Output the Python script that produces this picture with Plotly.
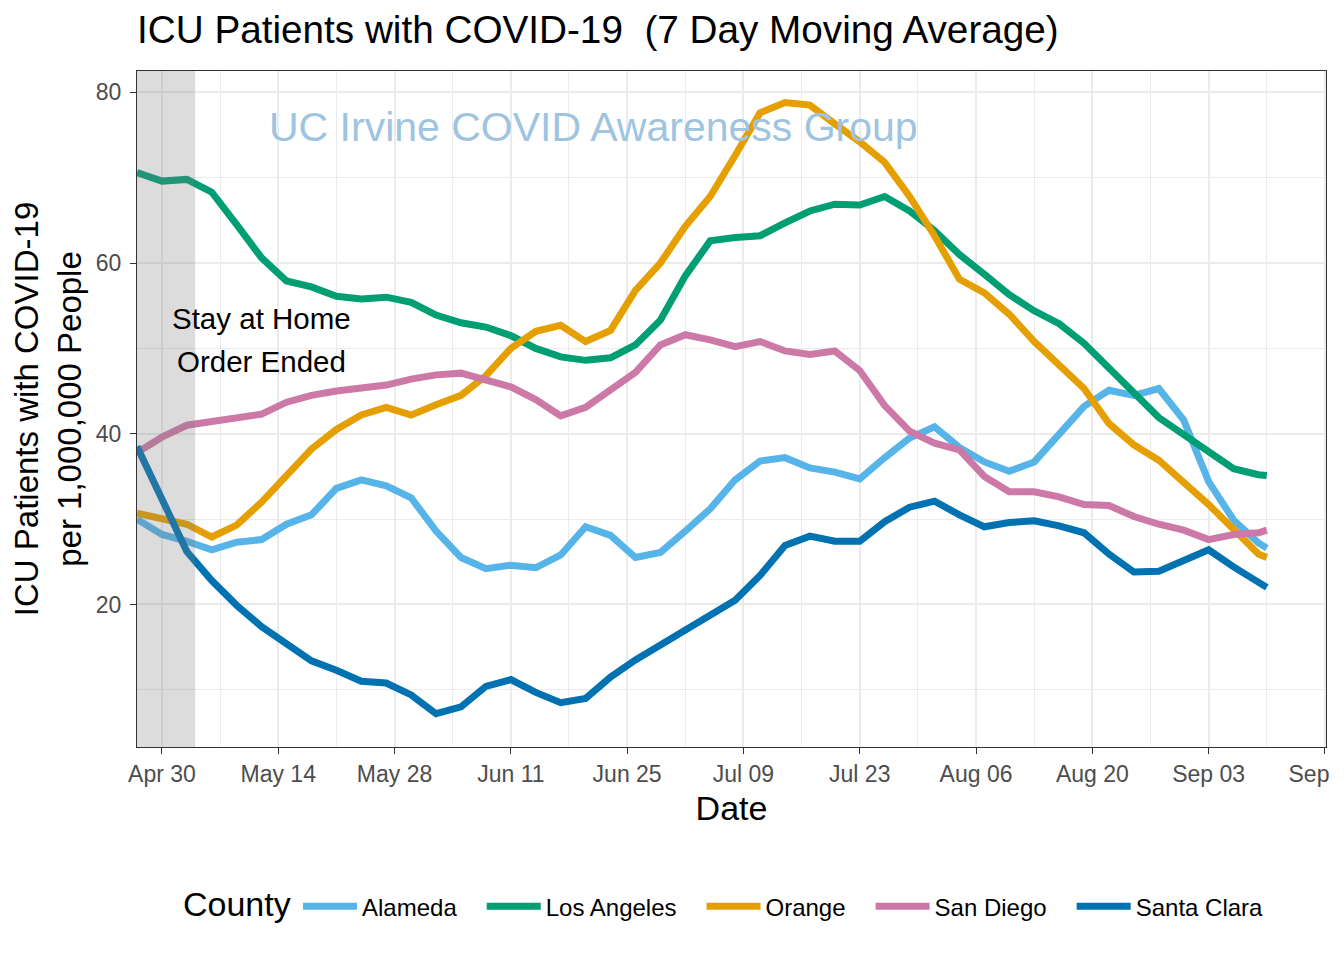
import pandas as pd
import plotly.graph_objects as go

# ---- data (every 3 days + last day) ----
dates = list(pd.date_range("2020-04-27", periods=46, freq="3D")) + [pd.Timestamp("2020-09-10")]

alameda = [30.0, 28.2, 27.4, 26.4, 27.3, 27.6, 29.4, 30.5, 33.6, 34.6, 33.9, 32.5, 28.6, 25.5, 24.2, 24.6,
           24.3, 25.8, 29.1, 28.1, 25.5, 26.1, 28.6, 31.2, 34.6, 36.8, 37.2, 36.0, 35.5, 34.7, 37.2, 39.5,
           40.8, 38.4, 36.7, 35.6, 36.7, 39.8, 43.2, 45.1, 44.5, 45.3, 41.6, 34.4, 29.9, 27.2, 26.6]
los_angeles = [70.6, 69.6, 69.8, 68.3, 64.5, 60.6, 57.9, 57.2, 56.1, 55.8, 56.0, 55.4, 53.9, 53.0, 52.5, 51.5,
               50.0, 49.0, 48.6, 48.9, 50.4, 53.3, 58.5, 62.6, 63.0, 63.2, 64.7, 66.1, 66.9, 66.8, 67.8, 66.1,
               63.8, 61.0, 58.7, 56.3, 54.4, 52.9, 50.6, 47.8, 44.8, 41.9, 39.9, 37.9, 35.9, 35.2, 35.1]
orange = [30.7, 30.1, 29.4, 27.9, 29.3, 32.0, 35.1, 38.2, 40.5, 42.2, 43.1, 42.2, 43.4, 44.5, 46.8, 50.0,
          52.0, 52.7, 50.8, 52.1, 56.8, 60.0, 64.3, 67.8, 72.6, 77.6, 78.8, 78.5, 76.3, 74.2, 71.8, 67.8,
          63.2, 58.1, 56.5, 54.0, 50.8, 48.0, 45.3, 41.2, 38.7, 36.9, 34.4, 31.7, 28.8, 25.9, 25.5]
san_diego = [37.8, 39.6, 41.0, 41.4, 41.7, 42.3, 43.7, 44.5, 45.0, 45.3, 45.7, 46.4, 46.9, 47.1, 46.2, 45.5,
             44.0, 42.1, 43.1, 45.2, 47.2, 50.4, 51.6, 51.0, 50.2, 50.8, 49.7, 49.3, 49.7, 47.4, 43.3, 40.3,
             38.9, 38.1, 35.0, 33.2, 33.2, 32.6, 31.7, 31.6, 30.3, 29.4, 28.7, 27.6, 28.2, 28.4, 28.7]
santa_clara = [38.5, 32.3, 26.2, 22.8, 19.9, 17.4, 15.3, 13.4, 12.3, 11.0, 10.8, 9.4, 7.2, 8.0, 10.4, 11.2,
               9.7, 8.5, 9.0, 11.5, 13.5, 15.3, 17.1, 18.7, 20.5, 23.4, 26.9, 28.0, 27.4, 27.4, 29.7, 31.4,
               32.1, 30.5, 29.1, 29.6, 29.8, 29.2, 28.4, 25.9, 23.8, 23.9, 25.1, 26.4, 24.4, 22.5, 22.0]

counties = ["Alameda", "Los Angeles", "Orange", "San Diego", "Santa Clara"]
series = [alameda, los_angeles, orange, san_diego, santa_clara]
colors = ["#56B4E9", "#009E73", "#E69F00", "#CC79A7", "#0072B2"]

stay_home_start = "2020-04-27"
stay_home_end = "2020-05-04"
x_range = ["2020-04-27", "2020-09-17 03:00"]
y_range = [3.3, 82.5]
y_ticks = [20, 40, 60, 80]

FONT = "Liberation Sans, Arial, Helvetica, sans-serif"
NB = "\u00a0"

fig = go.Figure()
for name, vals, col in zip(counties, series, colors):
    fig.add_trace(go.Scatter(x=dates, y=vals, mode="lines", name=name + NB * 3,
                             line=dict(color=col, width=7)))

# shaded stay-at-home period (drawn above lines, semi-transparent)
fig.add_shape(type="rect", xref="x", yref="paper", x0=stay_home_start, x1=stay_home_end,
              y0=0, y1=1, fillcolor="rgba(127,127,127,0.27)", line=dict(width=0), layer="above")

# annotations
fig.add_annotation(x="2020-05-12", y=53.5, text="Stay at Home", showarrow=False,
                   font=dict(family=FONT, size=29.5, color="black"), xanchor="center", yanchor="middle")
fig.add_annotation(x="2020-05-12", y=48.5, text="Order Ended", showarrow=False,
                   font=dict(family=FONT, size=29.5, color="black"), xanchor="center", yanchor="middle")
fig.add_annotation(x="2020-06-21", y=75.9, text="UC Irvine COVID Awareness Group", showarrow=False,
                   font=dict(family=FONT, size=41, color="#9fc4df"), xanchor="center", yanchor="middle")
fig.add_annotation(xref="paper", yref="paper", x=(181 - 137) / 1189, y=(747 - 904) / 676,
                   text="County", showarrow=False, xanchor="left", yanchor="middle",
                   font=dict(family=FONT, size=34, color="black"))

fig.update_layout(
    width=1344, height=960,
    margin=dict(l=129, r=26, t=63, b=221),
    paper_bgcolor="white", plot_bgcolor="white",
    font=dict(family=FONT, color="black"),
    title=dict(text="ICU Patients with COVID-19" + NB * 2 + "(7 Day Moving Average)",
               x=129 / 1344, xref="container", xanchor="left",
               y=1 - 21 / 960, yref="container", yanchor="middle",
               font=dict(family=FONT, size=38.7, color="black")),
    showlegend=True,
    legend=dict(orientation="h", x=(298 - 137) / 1189, xanchor="left", y=(747 - 904) / 676 - 0.004,
                yanchor="middle", font=dict(size=24, color="black"), itemwidth=54),
    xaxis=dict(type="date", range=x_range, tick0="2020-04-30", dtick=14 * 86400000,
               tickformat="%b %d", ticks="outside", ticklen=6, tickwidth=1.3, tickcolor="#333333",
               tickfont=dict(size=23, color="#4D4D4D"), ticklabeloverflow="allow", automargin=False,
               showgrid=True, gridcolor="#EBEBEB", gridwidth=2,
               minor=dict(dtick=7 * 86400000, tick0="2020-04-30", showgrid=True,
                          gridcolor="#EBEBEB", gridwidth=1),
               showline=True, linecolor="#333333", linewidth=1.3, mirror=True,
               zeroline=False,
               title=dict(text="Date", font=dict(size=34, color="black"), standoff=10)),
    yaxis=dict(range=y_range, tickvals=y_ticks, ticks="outside", ticklen=6, tickwidth=1.3,
               tickcolor="#333333", tickfont=dict(size=23, color="#4D4D4D"), ticklabelstandoff=4,
               automargin=False,
               showgrid=True, gridcolor="#EBEBEB", gridwidth=2,
               minor=dict(tickvals=[10, 30, 50, 70], showgrid=True, gridcolor="#EBEBEB", gridwidth=1),
               showline=True, linecolor="#333333", linewidth=1.3, mirror=True,
               zeroline=False,
               title=dict(text="ICU Patients with COVID-19<br>per 1,000,000 People",
                          font=dict(size=33, color="black"), standoff=6)),
)

fig.write_html("out.html")
